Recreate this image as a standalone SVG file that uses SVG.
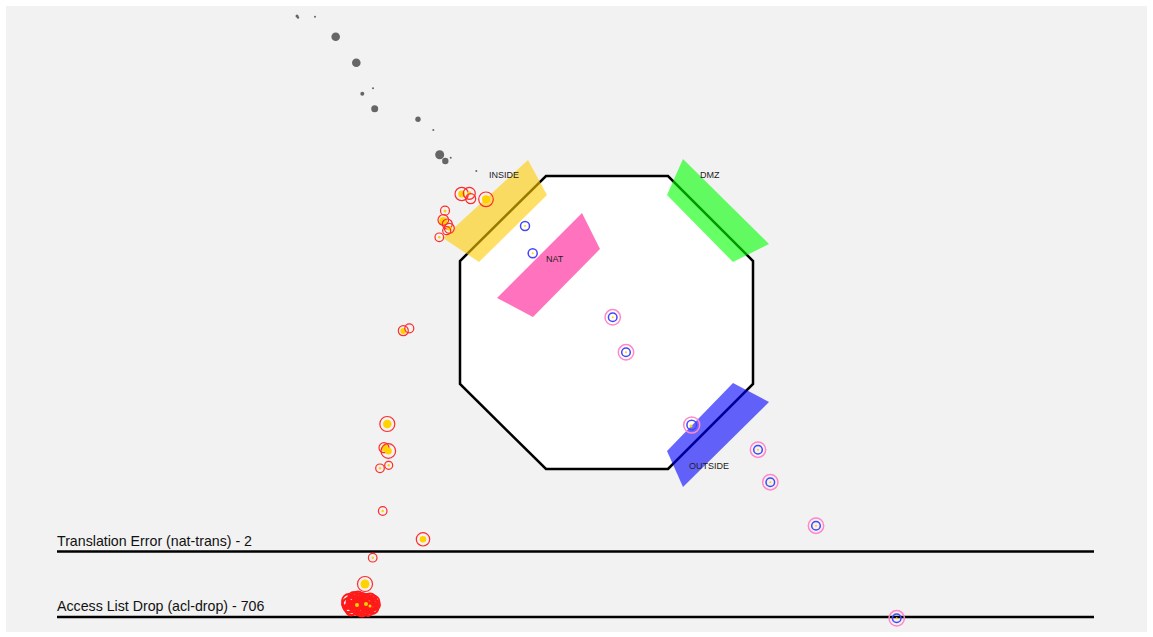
<svg xmlns="http://www.w3.org/2000/svg" width="1153" height="637" viewBox="0 0 1153 637">
<style>
.zone{fill-opacity:0.6;stroke:none}
.zl{font-family:"Liberation Sans",Arial,sans-serif;font-size:9px;fill:#222}
.big{font-family:"Liberation Sans",Arial,sans-serif;font-size:14.2px;fill:#111}
.rule{stroke:#000;stroke-width:2.5}
.g{fill:#666}
.r{fill:none;stroke:#ff2a2a;stroke-width:1.2}
.rc{fill:none;stroke:#ff1a1a;stroke-width:1.8}
.y{fill:#ffd200}
.b{fill:none;stroke:#4444ff;stroke-width:1.5}
.p{fill:none;stroke:#ff88c8;stroke-width:1.5}
</style>
<rect x="6" y="6" width="1141" height="626" fill="#f2f2f2"/>
<g id="octagon">
<polygon points="546,176 668,176 753,261 753,384 668,469 546,469 460,384 460,261" fill="#fff" stroke="#000" stroke-width="2.5"/>
</g>
<g id="zone-inside">
<polygon class="zone" fill="#ffcc00" points="528,160 547,195 479,262 443,238"/>
<text class="zl" x="489" y="178">INSIDE</text>
</g>
<g id="zone-dmz">
<polygon class="zone" fill="#00ff00" points="683,159 769,244 733,262 667,195"/>
<text class="zl" x="700" y="178">DMZ</text>
</g>
<g id="zone-nat">
<polygon class="zone" fill="#ff1493" points="582,213 600,249 533,317 497,298"/>
<text class="zl" x="546" y="262">NAT</text>
</g>
<g id="zone-outside">
<polygon class="zone" fill="#0000ff" points="733,383 769,402 683,487 667,451"/>
<text class="zl" x="689" y="469">OUTSIDE</text>
</g>
<g id="connectors">
<g id="lane-nat-trans">
<line class="rule" x1="57" y1="551.5" x2="1094" y2="551.5"/>
<text class="big" x="57" y="545.5">Translation Error (nat-trans) - 2</text>
</g>
<g id="lane-acl-drop">
<line class="rule" x1="57" y1="617" x2="1094" y2="617"/>
<text class="big" x="57" y="611">Access List Drop (acl-drop) - 706</text>
</g>
</g>
<g id="gray-dots">
<circle class="g" cx="297" cy="16" r="1.5"/>
<circle class="g" cx="298" cy="17.5" r="1.2"/>
<circle class="g" cx="315" cy="16.7" r="1"/>
<circle class="g" cx="335.7" cy="36.7" r="4.3"/>
<circle class="g" cx="356.3" cy="62.7" r="4.3"/>
<circle class="g" cx="373" cy="88.3" r="1"/>
<circle class="g" cx="362.3" cy="93.7" r="2"/>
<circle class="g" cx="374.7" cy="108.7" r="3.5"/>
<circle class="g" cx="418" cy="119.3" r="2.7"/>
<circle class="g" cx="433.3" cy="130" r="1"/>
<circle class="g" cx="439.7" cy="154.7" r="4.5"/>
<circle class="g" cx="445.3" cy="161" r="3.2"/>
<circle class="g" cx="450.7" cy="157.7" r="1"/>
<circle class="g" cx="476.3" cy="171" r="1"/>
</g>
<g id="red-dots">
<circle class="y" cx="461.7" cy="194" r="3.5"/><circle class="r" cx="461.7" cy="194" r="6.7"/>
<circle class="y" cx="469.3" cy="193.3" r="2"/><circle class="r" cx="469.3" cy="193.3" r="6"/>
<circle class="r" cx="470.7" cy="198.7" r="5"/>
<circle class="y" cx="486" cy="199.3" r="4"/><circle class="r" cx="486" cy="199.3" r="7.3"/>
<circle class="y" cx="445" cy="211" r="1.5"/><circle class="r" cx="445" cy="210.7" r="4.5"/>
<circle class="y" cx="443.3" cy="221" r="4"/><circle class="r" cx="443.3" cy="220" r="5.3"/>
<circle class="r" cx="447.3" cy="224" r="5"/>
<circle class="y" cx="449.3" cy="228.3" r="2.5"/><circle class="r" cx="449.3" cy="228.3" r="5"/>
<circle class="r" cx="446.7" cy="230.7" r="4"/>
<circle class="y" cx="439.3" cy="237.3" r="1.2"/><circle class="r" cx="439.3" cy="237.3" r="4.3"/>
<circle class="y" cx="403.3" cy="331" r="3"/><circle class="r" cx="403.3" cy="330.7" r="5"/><circle class="r" cx="409.3" cy="328.3" r="4.5"/>
<circle class="y" cx="387.3" cy="424" r="4.3"/><circle class="r" cx="387.3" cy="424" r="7.5"/>
<circle class="y" cx="385" cy="448" r="3.5"/><circle class="r" cx="384" cy="447.7" r="5"/>
<circle class="y" cx="388.3" cy="451" r="3.5"/><circle class="r" cx="388.3" cy="451" r="7.3"/>
<circle class="y" cx="380" cy="468.3" r="1.2"/><circle class="r" cx="380" cy="468.3" r="4.3"/>
<circle class="y" cx="388.7" cy="465.3" r="1.2"/><circle class="r" cx="388.7" cy="465.3" r="4"/>
<circle class="y" cx="382.7" cy="511" r="1.2"/><circle class="r" cx="382.7" cy="511" r="4.3"/>
<circle class="y" cx="423" cy="539.3" r="3.3"/><circle class="r" cx="423" cy="539.3" r="6.7"/>
<circle class="y" cx="372.7" cy="557.7" r="1.2"/><circle class="r" cx="372.7" cy="557.7" r="4.3"/>
<circle class="y" cx="365" cy="584" r="4.5"/><circle class="r" cx="365" cy="584" r="7.5"/>
</g>
<g id="acl-drop-cluster">
<circle class="y" cx="355" cy="604" r="4"/>
<circle class="y" cx="362" cy="601" r="3"/>
<circle class="y" cx="371" cy="601" r="3"/>
<circle class="y" cx="359" cy="608" r="3.5"/>
<circle class="rc" cx="349" cy="601" r="7"/>
<circle class="rc" cx="350" cy="605" r="7.5"/>
<circle class="rc" cx="352" cy="608" r="7"/>
<circle class="rc" cx="353" cy="602" r="6.5"/>
<circle class="rc" cx="355" cy="604" r="7.5"/>
<circle class="rc" cx="356" cy="600" r="7"/>
<circle class="rc" cx="357" cy="607" r="7"/>
<circle class="rc" cx="358" cy="603" r="6"/>
<circle class="rc" cx="359" cy="609" r="6.5"/>
<circle class="rc" cx="360" cy="601" r="7.5"/>
<circle class="rc" cx="361" cy="605" r="7"/>
<circle class="rc" cx="362" cy="599" r="6"/>
<circle class="rc" cx="363" cy="607" r="7.5"/>
<circle class="rc" cx="364" cy="603" r="7"/>
<circle class="rc" cx="365" cy="609" r="6"/>
<circle class="rc" cx="366" cy="601" r="7"/>
<circle class="rc" cx="367" cy="605" r="7.5"/>
<circle class="rc" cx="368" cy="602" r="6"/>
<circle class="rc" cx="369" cy="606" r="7"/>
<circle class="rc" cx="370" cy="600" r="6.5"/>
<circle class="rc" cx="371" cy="604" r="7"/>
<circle class="rc" cx="372" cy="608" r="6"/>
<circle class="rc" cx="373" cy="602" r="6.5"/>
<circle class="rc" cx="354" cy="598" r="6"/>
<circle class="rc" cx="358" cy="597" r="5.5"/>
<circle class="rc" cx="351" cy="610" r="5.5"/>
<circle class="rc" cx="362" cy="611" r="5.5"/>
<circle class="rc" cx="368" cy="611" r="5"/>
<circle class="rc" cx="347" cy="604" r="5"/>
<circle class="rc" cx="375" cy="605" r="5"/>
<circle class="rc" cx="356" cy="606" r="4"/>
<circle class="rc" cx="363" cy="604" r="4"/>
<circle class="rc" cx="369" cy="603" r="4"/>
<circle class="rc" cx="353" cy="605" r="3"/>
<circle class="rc" cx="360" cy="603" r="2.5"/>
<circle class="rc" cx="366" cy="608" r="3"/>
<circle class="rc" cx="348" cy="608" r="4"/>
<circle class="rc" cx="374" cy="609" r="4"/>
<circle class="y" cx="357" cy="605" r="2"/>
<circle class="y" cx="366" cy="604" r="2"/>
<circle class="y" cx="370" cy="606" r="1.5"/>
</g>
<g id="blue-dots">
<circle class="b" cx="525" cy="226" r="4.5"/><circle class="y" cx="525" cy="226" r="1"/>
<circle class="b" cx="532.7" cy="253.3" r="4.5"/><circle class="y" cx="532.7" cy="253.3" r="1"/>
<circle class="p" cx="612.7" cy="317.3" r="7.7"/><circle class="b" cx="612.7" cy="317.3" r="4.3"/><circle class="y" cx="612.7" cy="317.3" r="1"/>
<circle class="p" cx="626" cy="352.3" r="7.7"/><circle class="b" cx="626" cy="352.3" r="4.3"/><circle class="y" cx="626" cy="352.3" r="1"/>
<circle class="p" cx="691.7" cy="425" r="8"/><circle class="b" cx="691.7" cy="425" r="4.8"/><circle class="y" cx="691" cy="426" r="1.5"/>
<circle class="p" cx="758" cy="449.7" r="7.7"/><circle class="b" cx="758" cy="449.7" r="4.3"/><circle class="y" cx="758" cy="449.7" r="1"/>
<circle class="p" cx="770.3" cy="482.2" r="7.7"/><circle class="b" cx="770.3" cy="482.2" r="4.3"/><circle class="y" cx="770.3" cy="482.2" r="1"/>
<circle class="p" cx="816" cy="525.7" r="7.7"/><circle class="b" cx="816" cy="525.7" r="4.3"/><circle class="y" cx="816" cy="525.7" r="1"/>
<circle class="p" cx="896.7" cy="618.3" r="7.7"/><circle class="b" cx="896.7" cy="618.3" r="4.3"/><circle class="y" cx="896.7" cy="618.3" r="1"/>
</g>
</svg>
